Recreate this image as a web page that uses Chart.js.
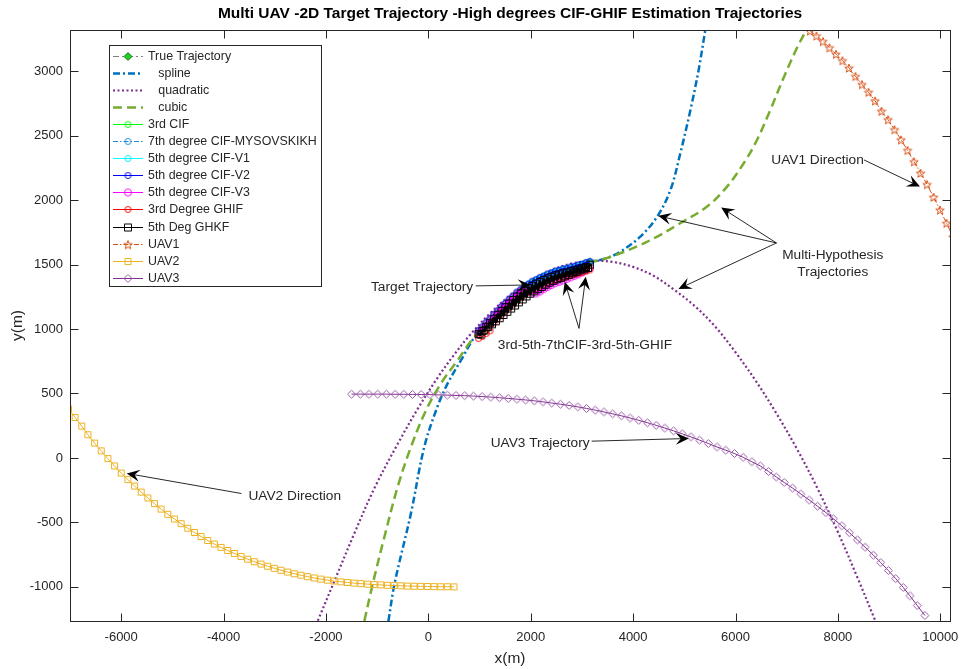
<!DOCTYPE html>
<html>
<head>
<meta charset="utf-8">
<script src="https://cdn.jsdelivr.net/npm/chart.js@4.4.1/dist/chart.umd.min.js"></script>
<style>
  html, body { margin: 0; padding: 0; background: #fff; }
  canvas { display: block; }
</style>
</head>
<body>
<canvas id="grafico" width="962" height="669"></canvas>
<script>
const FONT = "'Liberation Sans', Arial, Helvetica, sans-serif";
const TXT = "#262626";

const xTicks = [-6000, -4000, -2000, 0, 2000, 4000, 6000, 8000, 10000];
const yTicks = [-1000, -500, 0, 500, 1000, 1500, 2000, 2500, 3000];

// target + estimates share the same x samples
const estX = [980, 1055, 1130, 1205, 1280, 1355, 1430, 1505, 1580, 1655, 1730, 1805, 1880, 1955, 2030,
  2105, 2180, 2255, 2330, 2405, 2480, 2555, 2630, 2705, 2780, 2855, 2930, 3005, 3080, 3155];
const trueY = [981, 1013, 1045, 1076, 1107, 1138, 1168, 1197, 1225, 1253, 1279, 1303, 1325, 1345, 1363,
  1379, 1393, 1407, 1420, 1432, 1443, 1451, 1459, 1466, 1474, 1482, 1490, 1499, 1509, 1519];
const cif3Y = [984, 1010, 1048, 1073, 1110, 1135, 1171, 1194, 1228, 1250, 1282, 1300, 1328, 1342, 1366,
  1376, 1396, 1404, 1423, 1429, 1446, 1448, 1462, 1463, 1477, 1479, 1493, 1496, 1512, 1516];
const cif7Y = [981, 1019, 1045, 1082, 1107, 1144, 1168, 1203, 1225, 1259, 1279, 1309, 1325, 1351, 1363,
  1385, 1393, 1413, 1420, 1438, 1443, 1457, 1459, 1472, 1474, 1488, 1490, 1505, 1509, 1525];
const cifV1Y = [975, 1007, 1039, 1070, 1101, 1132, 1162, 1191, 1219, 1247, 1273, 1297, 1319, 1339, 1357,
  1373, 1387, 1401, 1414, 1426, 1437, 1445, 1453, 1460, 1468, 1476, 1484, 1493, 1503, 1513];
const cifV2Y = [989, 1015, 1053, 1078, 1115, 1140, 1176, 1199, 1233, 1255, 1287, 1305, 1333, 1347, 1371,
  1381, 1401, 1409, 1428, 1434, 1451, 1453, 1467, 1468, 1482, 1484, 1498, 1501, 1517, 1521];
const cifV3Y = [973, 1005, 1037, 1068, 1099, 1130, 1160, 1189, 1217, 1245, 1271, 1295, 1305, 1295, 1283,
  1276, 1292, 1310, 1327, 1342, 1356, 1366, 1378, 1389, 1401, 1413, 1425, 1440, 1457, 1474];
const ghif3Y = [926, 943, 965, 986, 1047, 1078, 1108, 1137, 1165, 1193, 1219, 1243, 1265, 1285, 1303,
  1319, 1333, 1347, 1360, 1372, 1383, 1391, 1399, 1406, 1414, 1422, 1430, 1439, 1449, 1459];

// the GHKF estimate is sampled more densely (it paints the thick black band)
const ghkfX = [980, 1018, 1055, 1093, 1130, 1168, 1205, 1243, 1280, 1318, 1355, 1393, 1430, 1468, 1505,
  1543, 1580, 1618, 1655, 1693, 1730, 1768, 1805, 1843, 1880, 1918, 1955, 1993, 2030, 2068,
  2105, 2143, 2180, 2218, 2255, 2293, 2330, 2368, 2405, 2443, 2480, 2518, 2555, 2593, 2630,
  2668, 2705, 2743, 2780, 2818, 2855, 2893, 2930, 2968, 3005, 3043, 3080, 3118, 3155];
const ghkfY = [961, 957, 986, 989, 1018, 1015, 1049, 1037, 1080, 1060, 1111, 1084, 1141, 1109, 1170,
  1134, 1198, 1159, 1226, 1183, 1252, 1207, 1276, 1230, 1298, 1253, 1318, 1274, 1336, 1292,
  1352, 1309, 1366, 1326, 1380, 1344, 1393, 1360, 1405, 1374, 1416, 1386, 1424, 1397, 1432,
  1409, 1439, 1420, 1447, 1432, 1455, 1444, 1463, 1455, 1472, 1464, 1482, 1474, 1499];

const splineX = [-780, -660, -340, -80, 180, 380, 640, 900, 1205, 1505, 1805, 2105, 2405, 2705, 3005, 3155,
  3450, 3750, 4140, 4470, 4730, 4920, 5120, 5280, 5410];
const splineY = [-1267, -975, -430, 85, 400, 580, 760, 935, 1076, 1197, 1303, 1379, 1432, 1466, 1499, 1519,
  1545, 1600, 1717, 1872, 2080, 2360, 2700, 3010, 3320];

const quadX = [-2160, -1830, -1440, -1050, -600, -200, 180, 500, 800, 1200, 1600, 2000, 2400, 2800, 3200,
  3600, 4000, 4400, 4800, 5200, 5600, 6000, 6400, 6800, 7200, 7600, 8000, 8400, 8730];
const quadY = [-1263, -950, -580, -232, 108, 386, 622, 799, 948, 1120, 1263, 1374, 1456, 1508, 1529,
  1521, 1482, 1413, 1305, 1180, 1020, 820, 595, 345, 70, -235, -575, -945, -1263];

const cubicX = [-1250, -1085, -860, -600, -340, -45, 250, 575, 830, 1205, 1505, 1805, 2105, 2405, 2705,
  3005, 3155, 3450, 3750, 4100, 4470, 4920, 5445, 5835, 6160, 6420, 6680, 6940, 7200, 7395];
const cubicY = [-1265, -975, -615, -225, 85, 370, 580, 760, 905, 1076, 1197, 1303, 1379, 1432, 1466,
  1499, 1519, 1545, 1588, 1645, 1717, 1821, 1950, 2105, 2286, 2467, 2700, 2950, 3180, 3330];

const uav1X = [7455, 7582, 7709, 7836, 7963, 8090, 8217, 8344, 8471, 8598, 8725, 8852, 8979, 9106, 9233,
  9360, 9487, 9614, 9741, 9868, 9995, 10122, 10249];
const uav1Y = [3314, 3275, 3232, 3183, 3133, 3083, 3026, 2961, 2898, 2838, 2771, 2691, 2625, 2548, 2469,
  2387, 2299, 2211, 2122, 2024, 1925, 1822, 1715];

const uav2X = [-7030, -6900, -6770, -6650, -6520, -6390, -6260, -6130, -6000, -5870, -5740, -5610, -5480, -5350,
  -5220, -5090, -4960, -4830, -4700, -4570, -4440, -4310, -4180, -4050, -3920, -3790, -3660, -3530, -3400,
  -3270, -3140, -3010, -2880, -2750, -2620, -2490, -2360, -2230, -2100, -1970, -1840, -1710, -1580, -1450,
  -1320, -1190, -1060, -930, -800, -670, -540, -410, -280, -150, -20, 110, 240, 370, 500];
const uav2Y = [380, 314, 247, 180, 115, 55, -5, -62, -117, -168, -218, -265, -310, -354,
  -397, -437, -474, -510, -545, -578, -609, -640, -668, -694, -718, -741, -764, -785, -805,
  -823, -840, -856, -871, -885, -898, -910, -921, -931, -940, -948, -955, -961, -966, -971,
  -975, -979, -982, -985, -988, -990, -992, -994, -995, -996, -997, -998, -999, -999, -1000];

const uav3X = [-1500, -1330, -1160, -990, -820, -650, -480, -310, -140, 30, 200, 370, 540, 710, 880,
  1050, 1220, 1390, 1560, 1730, 1900, 2070, 2240, 2410, 2580, 2750, 2920, 3090, 3260, 3430,
  3600, 3770, 3940, 4110, 4280, 4450, 4620, 4790, 4960, 5130, 5300, 5470, 5640, 5810, 5980,
  6150, 6320, 6484, 6646, 6796, 6952, 7114, 7278, 7439, 7601, 7765, 7913, 8077, 8225, 8381,
  8531, 8693, 8837, 8985, 9129, 9277, 9408, 9550, 9700];
const uav3Y = [495, 495, 495, 495, 495, 494, 494, 493, 492, 491, 489, 487, 485, 483, 480,
  476, 472, 467, 462, 456, 450, 443, 435, 426, 417, 407, 396, 384, 371, 357,
  342, 327, 310, 292, 273, 253, 232, 210, 187, 163, 138, 112, 85, 60, 34,
  5, -30, -62, -105, -148, -190, -234, -280, -326, -374, -424, -472, -527, -580, -636,
  -692, -754, -812, -873, -936, -1005, -1070, -1145, -1222];

// text arrows, in data units
const notas = [
  { lines: ["Target Trajectory"], x: -1120, y: 1328, align: "left", arrows: [[925, 1335, 2000, 1342]] },
  { lines: ["3rd-5th-7thCIF-3rd-5th-GHIF"], x: 1358, y: 876, align: "left",
    arrows: [[2943, 1005, 2664, 1367], [2943, 1005, 3074, 1406]] },
  { lines: ["Multi-Hypothesis", "Trajectories"], x: 7900, y: 1575, align: "center",
    arrows: [[6800, 1668, 4490, 1878], [6800, 1668, 5720, 1942], [6800, 1668, 4885, 1311]] },
  { lines: ["UAV1 Direction"], x: 6699, y: 2312, align: "left", arrows: [[8510, 2312, 9603, 2105]] },
  { lines: ["UAV2 Direction"], x: -3514, y: -297, align: "left", arrows: [[-3651, -276, -5892, -120]] },
  { lines: ["UAV3 Trajectory"], x: 1218, y: 115, align: "left", arrows: [[3190, 130, 5087, 151]] },
];

function pts(xs, ys) {
  return xs.map((x, i) => ({ x: x, y: ys[i] }));
}

function makeMarker(shape, stroke, size, fill) {
  const c = document.createElement("canvas");
  const s = size + 3;
  c.width = s;
  c.height = s;
  const g = c.getContext("2d");
  const m = s / 2, r = size / 2;
  g.strokeStyle = stroke;
  g.lineWidth = 1;
  g.beginPath();
  if (shape === "o") {
    g.arc(m, m, r, 0, Math.PI * 2);
  } else if (shape === "s") {
    g.rect(m - r, m - r, 2 * r, 2 * r);
  } else if (shape === "d") {
    g.moveTo(m, m - r);
    g.lineTo(m + r, m);
    g.lineTo(m, m + r);
    g.lineTo(m - r, m);
    g.closePath();
  } else if (shape === "p") {
    for (let k = 0; k < 10; k++) {
      const a = -Math.PI / 2 + k * Math.PI / 5;
      const rr = k % 2 ? r * 0.42 : r;
      const px = m + rr * Math.cos(a), py = m + 0.6 + rr * Math.sin(a);
      if (k === 0) g.moveTo(px, py); else g.lineTo(px, py);
    }
    g.closePath();
  }
  if (fill) {
    g.fillStyle = fill;
    g.fill();
  }
  g.stroke();
  return c;
}

function serie(label, xs, ys, cor, opts) {
  return Object.assign({
    label: label,
    data: pts(xs, ys),
    showLine: true,
    borderColor: cor,
    backgroundColor: cor,
    borderWidth: 1,
    pointRadius: 0,
    tension: 0,
  }, opts || {});
}

const datasets = [
  serie("True Trajectory", estX, trueY, "#7f7f7f", {
    borderDash: [6, 3, 2, 3],
    pointStyle: makeMarker("d", "#2a6a2a", 8, "#1fd21f"),
    pointRadius: (c) => (c.dataIndex === trueY.length - 1 ? 3 : 0),
  }),
  serie("   spline", splineX, splineY, "#0072BD", { borderWidth: 2.5, borderDash: [7, 3, 2, 3], tension: 0.35 }),
  serie("   quadratic", quadX, quadY, "#7E2F8E", { borderWidth: 2.2, borderDash: [2, 2.5], tension: 0.35 }),
  serie("   cubic", cubicX, cubicY, "#77AC30", { borderWidth: 2.5, borderDash: [9, 5], tension: 0.35 }),
  serie("3rd CIF", estX, cif3Y, "#00ff00", { pointStyle: makeMarker("o", "#00ff00", 6), pointRadius: 3 }),
  serie("7th degree CIF-MYSOVSKIKH", estX, cif7Y, "#1f8ad6", {
    borderDash: [5, 2, 1.5, 2], pointStyle: makeMarker("o", "#1f8ad6", 6), pointRadius: 3,
  }),
  serie("5th degree CIF-V1", estX, cifV1Y, "#00ffff", { pointStyle: makeMarker("o", "#00e8e8", 6), pointRadius: 3 }),
  serie("5th degree CIF-V2", estX, cifV2Y, "#0000ff", {
    borderWidth: 1.5, legendWidth: 1, pointStyle: makeMarker("o", "#0000ff", 6), pointRadius: 3,
  }),
  serie("5th degree CIF-V3", estX, cifV3Y, "#ff00ff", {
    borderWidth: 2.5, legendWidth: 1, borderJoinStyle: "round",
    pointStyle: makeMarker("o", "#ff00ff", 7), pointRadius: 3,
  }),
  serie("3rd Degree GHIF", estX, ghif3Y, "#ff0000", { pointStyle: makeMarker("o", "#ff0000", 6), pointRadius: 3 }),
  serie("5th Deg GHKF", ghkfX, ghkfY, "#000000", {
    borderWidth: 3, legendWidth: 1, borderJoinStyle: "round", borderCapStyle: "round",
    pointStyle: makeMarker("s", "#000000", 7), pointRadius: 3,
  }),
  serie("UAV1", uav1X, uav1Y, "#D95319", {
    borderDash: [5, 2, 1.5, 2], pointStyle: makeMarker("p", "#D95319", 9), pointRadius: 3,
  }),
  serie("UAV2", uav2X, uav2Y, "#EDB120", { pointStyle: makeMarker("s", "#EDB120", 6), pointRadius: 3 }),
  serie("UAV3", uav3X, uav3Y, "#7E2F8E", { pointStyle: makeMarker("d", "#9a5aa8", 8), pointRadius: 3 }),
];
// MATLAB draws later series on top
datasets.forEach((d, i) => { d.order = datasets.length - i; });

function drawArrow(ctx, x1, y1, x2, y2) {
  const ang = Math.atan2(y2 - y1, x2 - x1);
  ctx.beginPath();
  ctx.moveTo(x1, y1);
  ctx.lineTo(x2 - 7 * Math.cos(ang), y2 - 7 * Math.sin(ang));
  ctx.stroke();
  ctx.save();
  ctx.translate(x2, y2);
  ctx.rotate(ang);
  ctx.beginPath();
  ctx.moveTo(0, 0);
  ctx.lineTo(-13, -6);
  ctx.lineTo(-8, 0);
  ctx.lineTo(-13, 6);
  ctx.closePath();
  ctx.fill();
  ctx.restore();
}

const decoracao = {
  id: "decoracao",
  afterDatasetsDraw(chart) {
    const { ctx, scales } = chart;
    const sx = scales.x, sy = scales.y;

    // annotations
    ctx.save();
    ctx.strokeStyle = "#111";
    ctx.fillStyle = "#000";
    ctx.lineWidth = 0.9;
    notas.forEach((n) => {
      n.arrows.forEach((p) => drawArrow(ctx, sx.getPixelForValue(p[0]), sy.getPixelForValue(p[1]),
        sx.getPixelForValue(p[2]), sy.getPixelForValue(p[3])));
    });
    ctx.fillStyle = TXT;
    ctx.font = "13.7px " + FONT;
    ctx.textBaseline = "middle";
    notas.forEach((n) => {
      ctx.textAlign = n.align;
      const px = sx.getPixelForValue(n.x), py = sy.getPixelForValue(n.y);
      n.lines.forEach((t, i) => ctx.fillText(t, px, py + i * 17));
    });
    ctx.restore();
  },
  afterDraw(chart) {
    const { ctx, chartArea: a, scales } = chart;
    const sx = scales.x, sy = scales.y;
    ctx.save();

    // box and inward ticks
    ctx.strokeStyle = TXT;
    ctx.lineWidth = 1;
    const L = a.left + 0.5, R = a.right + 0.5, T = a.top + 0.5, B = a.bottom + 0.5;
    ctx.strokeRect(L, T, R - L, B - T);
    ctx.beginPath();
    xTicks.forEach((v) => {
      const p = Math.round(sx.getPixelForValue(v)) + 0.5;
      ctx.moveTo(p, B); ctx.lineTo(p, B - 8);
      ctx.moveTo(p, T); ctx.lineTo(p, T + 8);
    });
    yTicks.forEach((v) => {
      const p = Math.round(sy.getPixelForValue(v)) + 0.5;
      ctx.moveTo(L, p); ctx.lineTo(L + 8, p);
      ctx.moveTo(R, p); ctx.lineTo(R - 8, p);
    });
    ctx.stroke();

    // title and axis labels
    ctx.fillStyle = "#000";
    ctx.textAlign = "center";
    ctx.textBaseline = "middle";
    ctx.font = "bold 15.5px " + FONT;
    ctx.fillText("Multi UAV -2D Target Trajectory -High degrees CIF-GHIF Estimation Trajectories", (a.left + a.right) / 2, 14);
    ctx.fillStyle = TXT;
    ctx.font = "15.5px " + FONT;
    ctx.fillText("x(m)", (a.left + a.right) / 2, 659);
    ctx.save();
    ctx.translate(18, (a.top + a.bottom) / 2);
    ctx.rotate(-Math.PI / 2);
    ctx.fillText("y(m)", 0, 0);
    ctx.restore();

    // legend
    const lx = 109.5, ly = 45.5, lw = 212, lh = 241;
    ctx.fillStyle = "#fff";
    ctx.fillRect(lx, ly, lw, lh);
    ctx.strokeStyle = TXT;
    ctx.strokeRect(lx, ly, lw, lh);
    ctx.font = "12.4px " + FONT;
    ctx.textAlign = "left";
    chart.data.datasets.forEach((d, i) => {
      const cy = Math.round(56 + i * 17.05) + 0.5;
      ctx.save();
      ctx.strokeStyle = d.borderColor;
      ctx.lineWidth = d.legendWidth || d.borderWidth;
      ctx.setLineDash(d.borderDash || []);
      ctx.beginPath();
      ctx.moveTo(113, cy);
      ctx.lineTo(143, cy);
      ctx.stroke();
      ctx.restore();
      if (d.pointStyle) {
        const img = d.pointStyle;
        ctx.drawImage(img, 128 - img.width / 2, cy - img.height / 2);
      }
      ctx.fillStyle = TXT;
      ctx.fillText(d.label, 148, cy);
    });
    ctx.restore();
  },
};

const ctx = document.getElementById("grafico").getContext("2d");

const grafico = new Chart(ctx, {
  type: "scatter",
  data: { datasets: datasets },
  options: {
    responsive: false,
    animation: false,
    devicePixelRatio: 1,
    events: [],
    layout: { padding: { left: 0, right: 12, top: 30, bottom: 0 } },
    plugins: { legend: { display: false }, tooltip: { enabled: false } },
    scales: {
      x: {
        type: "linear",
        min: -7000,
        max: 10190,
        grid: { display: false, drawTicks: false },
        border: { display: false },
        afterBuildTicks: (s) => { s.ticks = xTicks.map((v) => ({ value: v })); },
        afterFit: (s) => { s.height = 48; s.paddingLeft = 0; s.paddingRight = 0; },
        ticks: {
          padding: 9, color: TXT, maxRotation: 0, autoSkip: false,
          font: { family: FONT, size: 13 },
          callback: (v) => String(v),
        },
      },
      y: {
        type: "linear",
        min: -1265,
        max: 3320,
        grid: { display: false, drawTicks: false },
        border: { display: false },
        afterBuildTicks: (s) => { s.ticks = yTicks.map((v) => ({ value: v })); },
        afterFit: (s) => { s.width = 70; s.paddingTop = 0; s.paddingBottom = 0; },
        ticks: {
          padding: 7, color: TXT, autoSkip: false,
          font: { family: FONT, size: 13 },
          callback: (v) => String(v),
        },
      },
    },
  },
  plugins: [decoracao],
});
</script>
</body>
</html>
